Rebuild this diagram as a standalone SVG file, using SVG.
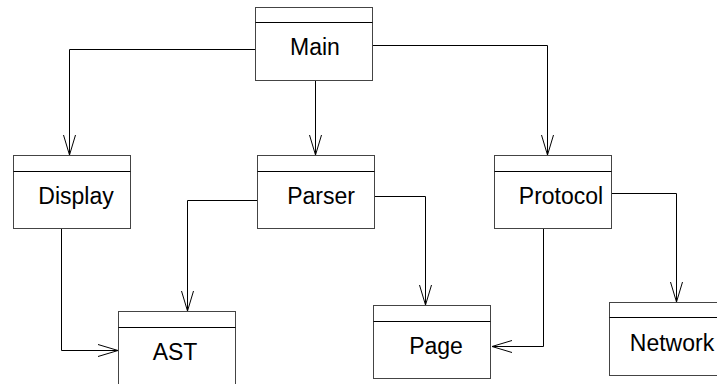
<svg xmlns="http://www.w3.org/2000/svg" width="717" height="384" viewBox="0 0 717 384">
<style>
.box{fill:#fff;stroke:#444;stroke-width:1}
.div{stroke:#000;stroke-width:1}
.lbl{font-family:"Liberation Sans",Arial,sans-serif;font-size:23px;fill:#000;text-anchor:middle}
.con{fill:none;stroke:#000;stroke-width:1}
</style>
<defs>
<marker id="v" markerUnits="userSpaceOnUse" markerWidth="24" markerHeight="16" refX="20" refY="6" orient="auto" overflow="visible">
<path d="M0,0 L20,6 L0,12" fill="none" stroke="#000" stroke-width="1"/>
</marker>
</defs>
<rect width="717" height="384" fill="#fff"/>
<g id="connectors">
<path class="con" d="M255.5,49.5 H69.5 V155" marker-end="url(#v)"/>
<path class="con" d="M315.5,80 V155" marker-end="url(#v)"/>
<path class="con" d="M372,45.5 H547.5 V155" marker-end="url(#v)"/>
<path class="con" d="M257,200.5 H187.5 V311" marker-end="url(#v)"/>
<path class="con" d="M374,196.5 H425.5 V305" marker-end="url(#v)"/>
<path class="con" d="M612,193.5 H676.5 V302" marker-end="url(#v)"/>
<path class="con" d="M61.5,229 V350.5 H118" marker-end="url(#v)"/>
<path class="con" d="M543.5,229 V346.5 H492" marker-end="url(#v)"/>
</g>
<g id="main">
<rect class="box" x="255.5" y="7.5" width="117" height="73"/>
<line class="div" x1="255.5" y1="22.5" x2="372.5" y2="22.5"/>
<text class="lbl" x="315" y="55">Main</text>
</g>
<g id="display">
<rect class="box" x="13.5" y="155.5" width="117" height="73"/>
<line class="div" x1="13.5" y1="171.5" x2="130.5" y2="171.5"/>
<text class="lbl" x="76" y="204">Display</text>
</g>
<g id="parser">
<rect class="box" x="257.5" y="155.5" width="117" height="73"/>
<line class="div" x1="257.5" y1="171.5" x2="374.5" y2="171.5"/>
<text class="lbl" x="321" y="204">Parser</text>
</g>
<g id="protocol">
<rect class="box" x="494.5" y="155.5" width="117" height="73"/>
<line class="div" x1="494.5" y1="171.5" x2="611.5" y2="171.5"/>
<text class="lbl" x="561" y="204">Protocol</text>
</g>
<g id="ast">
<rect class="box" x="118.5" y="311.5" width="117" height="80"/>
<line class="div" x1="118.5" y1="327.5" x2="235.5" y2="327.5"/>
<text class="lbl" x="175" y="360">AST</text>
</g>
<g id="page">
<rect class="box" x="373.5" y="305.5" width="117" height="73"/>
<line class="div" x1="373.5" y1="321.5" x2="490.5" y2="321.5"/>
<text class="lbl" x="436" y="354">Page</text>
</g>
<g id="network">
<rect class="box" x="609.5" y="302.5" width="117" height="73"/>
<line class="div" x1="609.5" y1="317.5" x2="726.5" y2="317.5"/>
<text class="lbl" x="672" y="351">Network</text>
</g>
</svg>
